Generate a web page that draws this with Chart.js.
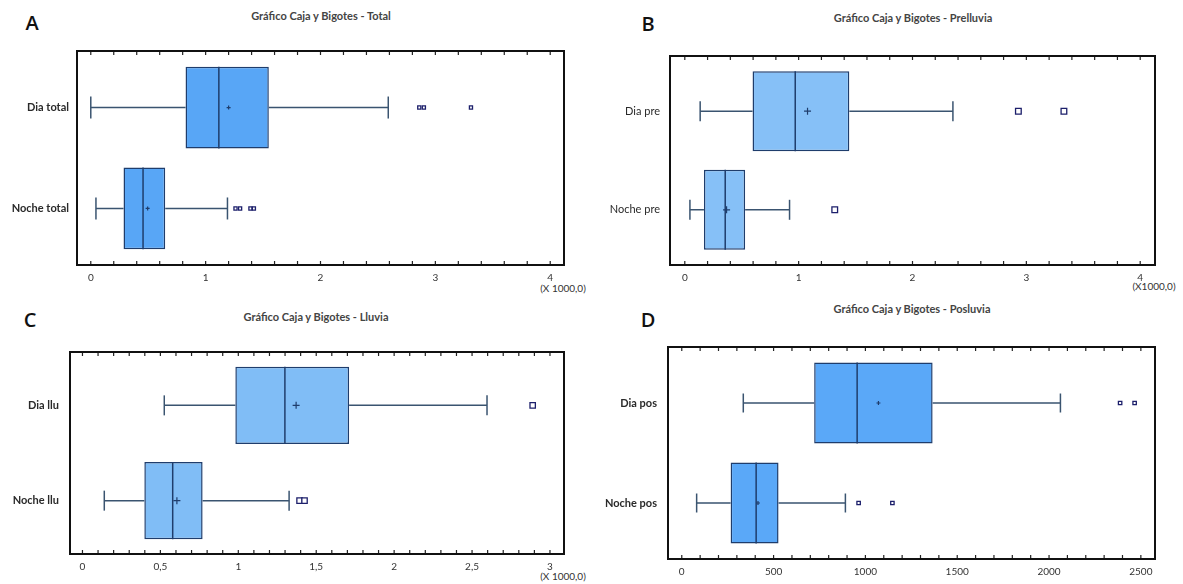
<!DOCTYPE html>
<html>
<head>
<meta charset="utf-8">
<script src="https://cdn.jsdelivr.net/npm/chart.js@4.4.1/dist/chart.umd.min.js"></script>
<style>
  body { margin: 0; background: #fff; width: 1183px; height: 584px; position: relative; overflow: hidden; font-family: Lato, "Open Sans", sans-serif; }
  .panel { position: absolute; }
  .txt { position: absolute; transform: translate(-50%, -50%); white-space: nowrap; color: #333; }
  .letter { font-family: "Open Sans", Lato, sans-serif; font-size: 20px; font-weight: 600; color: #111; }
  .title { font-size: 11px; font-weight: bold; color: #444; }
  .unit { font-size: 10px; color: #333; }
</style>
</head>
<body>

<div class="txt letter" style="left:32px;top:22px">A</div>
<div class="txt title" style="left:321px;top:15px">Gráfico Caja y Bigotes - Total</div>
<div class="txt unit" style="left:563px;top:288px">(X 1000,0)</div>

<div class="txt letter" style="left:648px;top:23px">B</div>
<div class="txt title" style="left:913px;top:17px">Gráfico Caja y Bigotes - Prelluvia</div>
<div class="txt unit" style="left:1154px;top:286px">(X1000,0)</div>

<div class="txt letter" style="left:30px;top:319px">C</div>
<div class="txt title" style="left:316px;top:316px">Gráfico Caja y Bigotes - Lluvia</div>
<div class="txt unit" style="left:563px;top:576px">(X 1000,0)</div>

<div class="txt letter" style="left:648px;top:319px">D</div>
<div class="txt title" style="left:912px;top:308px">Gráfico Caja y Bigotes - Posluvia</div>

<div class="panel" style="left:0;top:0;width:590px;height:290px"><canvas id="chartA"></canvas></div>
<div class="panel" style="left:590px;top:0;width:593px;height:290px"><canvas id="chartB"></canvas></div>
<div class="panel" style="left:0;top:290px;width:590px;height:294px"><canvas id="chartC"></canvas></div>
<div class="panel" style="left:590px;top:290px;width:593px;height:294px"><canvas id="chartD"></canvas></div>

<script>
// A - Total (X 1000)
const catsA = ["Dia total", "Noche total"];
const lowA = [0.0, 0.045];
const q1A = [0.825, 0.285];
const medA = [1.115, 0.455];
const q3A = [1.55, 0.648];
const highA = [2.59, 1.19];
const meanA = [1.2, 0.495];
const outA = [[2.86, 2.9, 3.31], [1.26, 1.3, 1.39, 1.42]];
const ticksA = [0, 1, 2, 3, 4];
const tickLabelsA = ["0", "1", "2", "3", "4"];

// B - Prelluvia (X 1000)
const catsB = ["Dia pre", "Noche pre"];
const lowB = [0.135, 0.045];
const q1B = [0.595, 0.168];
const medB = [0.97, 0.355];
const q3B = [1.445, 0.53];
const highB = [2.355, 0.92];
const meanB = [1.078, 0.367];
const outB = [[2.93, 3.33], [1.317]];
const ticksB = [0, 1, 2, 3, 4];
const tickLabelsB = ["0", "1", "2", "3", "4"];

// C - Lluvia (X 1000)
const catsC = ["Dia llu", "Noche llu"];
const lowC = [0.525, 0.14];
const q1C = [0.981, 0.397];
const medC = [1.299, 0.579];
const q3C = [1.711, 0.771];
const highC = [2.596, 1.326];
const meanC = [1.371, 0.606];
const outC = [[2.889], [1.393, 1.425]];
const ticksC = [0, 0.5, 1, 1.5, 2, 2.5, 3];
const tickLabelsC = ["0", "0,5", "1", "1,5", "2", "2,5", "3"];

// D - Posluvia
const catsD = ["Dia pos", "Noche pos"];
const lowD = [335, 81];
const q1D = [721, 266];
const medD = [955, 405];
const q3D = [1366, 527];
const highD = [2062, 891];
const meanD = [1071, 415];
const outD = [[2387, 2466], [963, 1147]];
const ticksD = [0, 500, 1000, 1500, 2000, 2500];
const tickLabelsD = ["0", "500", "1000", "1500", "2000", "2500"];

const navy = "#1f3d6c";
const whiskerColor = "#3a5470";
const outlierColor = "#1c1f6b";

// frame and inner tick marks (top and bottom)
const framePlugin = {
  id: "frame",
  afterDatasetsDraw(chart, args, opts) {
    const { ctx, chartArea: a, scales } = chart;
    const x = scales.x;
    ctx.save();
    ctx.strokeStyle = "#222";
    ctx.lineWidth = 1.2;
    const first = Math.ceil(x.min / opts.minor);
    const last = Math.floor(x.max / opts.minor);
    for (let k = first; k <= last; k++) {
      const px = x.getPixelForValue(k * opts.minor);
      ctx.beginPath();
      ctx.moveTo(px, a.top);
      ctx.lineTo(px, a.top + 4);
      ctx.moveTo(px, a.bottom);
      ctx.lineTo(px, a.bottom - 4);
      ctx.stroke();
    }
    ctx.lineWidth = 2;
    ctx.strokeStyle = "#111";
    ctx.strokeRect(a.left, a.top, a.width, a.height);
    ctx.restore();
  }
};

function makePanel(id, p) {
  const n = p.cats.length;
  const pos = i => n - 1 - i;
  const halfBox = 0.405;

  const boxes = p.cats.map((c, i) => ({ y: pos(i), x: [p.q1[i], p.q3[i]] }));
  const whiskers = [];
  p.cats.forEach((c, i) => {
    whiskers.push({ x: p.low[i], y: pos(i) }, { x: p.q1[i], y: pos(i) }, { x: null, y: null });
    whiskers.push({ x: p.q3[i], y: pos(i) }, { x: p.high[i], y: pos(i) }, { x: null, y: null });
  });
  const caps = [];
  p.cats.forEach((c, i) => caps.push({ x: p.low[i], y: pos(i) }, { x: p.high[i], y: pos(i) }));
  const medians = p.cats.map((c, i) => ({ x: p.med[i], y: pos(i) }));
  const means = p.cats.map((c, i) => ({ x: p.mean[i], y: pos(i) }));
  const outliers = [];
  p.cats.forEach((c, i) => p.out[i].forEach(v => outliers.push({ x: v, y: pos(i) })));

  const medRadius = ctx => {
    const y = ctx.chart.scales.y;
    return Math.abs(y.getPixelForValue(0) - y.getPixelForValue(halfBox));
  };

  new Chart(document.getElementById(id), {
    type: "bar",
    data: {
      datasets: [
        {
          type: "line",
          data: whiskers,
          borderColor: whiskerColor,
          borderWidth: 1.5,
          pointRadius: 0,
          spanGaps: false,
          order: 3
        },
        {
          type: "scatter",
          data: caps,
          pointStyle: "line",
          rotation: 90,
          pointRadius: p.capRadius,
          borderColor: whiskerColor,
          borderWidth: 1.5,
          order: 3
        },
        {
          type: "bar",
          data: boxes,
          backgroundColor: p.fill,
          borderColor: navy,
          borderWidth: 1.5,
          borderSkipped: false,
          categoryPercentage: 1,
          barPercentage: 0.81,
          order: 2
        },
        {
          type: "scatter",
          data: medians,
          pointStyle: "line",
          rotation: 90,
          pointRadius: medRadius,
          borderColor: navy,
          borderWidth: 1.5,
          order: 1
        },
        {
          type: "scatter",
          data: means,
          pointStyle: "cross",
          pointRadius: p.meanRadius,
          borderColor: navy,
          borderWidth: 1.2,
          order: 0
        },
        {
          type: "scatter",
          data: outliers,
          pointStyle: "rect",
          pointRadius: p.outRadius,
          backgroundColor: "#fff",
          borderColor: outlierColor,
          borderWidth: 1.3,
          order: 0
        }
      ]
    },
    options: {
      indexAxis: "y",
      responsive: true,
      maintainAspectRatio: false,
      animation: false,
      events: [],
      layout: { padding: p.padding },
      plugins: {
        legend: { display: false },
        tooltip: { enabled: false },
        title: { display: false },
        frame: { minor: p.minor }
      },
      scales: {
        x: {
          type: "linear",
          min: p.xmin,
          max: p.xmax,
          grid: { display: false, drawTicks: false },
          border: { display: false },
          afterBuildTicks: s => { s.ticks = p.ticks.map(v => ({ value: v })); },
          afterFit: s => { s.height = 25; },
          ticks: {
            padding: 7,
            color: "#333",
            autoSkip: false,
            font: { family: "Lato, 'Open Sans', sans-serif", size: 10 },
            maxRotation: 0,
            callback: v => p.tickLabels[p.ticks.indexOf(v)]
          }
        },
        y: {
          type: "linear",
          min: -0.56,
          max: 1.56,
          offset: false,
          grid: { display: false, offset: false, drawTicks: false },
          border: { display: false },
          afterBuildTicks: s => { s.ticks = p.cats.map((c, i) => ({ value: pos(i) })); },
          afterFit: s => { s.width = p.yWidth; },
          ticks: {
            padding: p.yPad,
            color: "#2a2a2a",
            font: { family: "Lato, 'Open Sans', sans-serif", size: 11, weight: p.yWeight },
            callback: v => p.cats[n - 1 - v]
          }
        }
      }
    },
    plugins: [framePlugin]
  });
}

makePanel("chartA", {
  cats: catsA, low: lowA, q1: q1A, med: medA, q3: q3A, high: highA, mean: meanA, out: outA,
  ticks: ticksA, tickLabels: tickLabelsA, minor: 0.2, xmin: -0.12, xmax: 4.12,
  fill: "#58a6f6", capRadius: 11, meanRadius: 2, outRadius: 2.2,
  yWidth: 77, yPad: 8, yWeight: "bold",
  padding: { top: 51, right: 26, bottom: 0, left: 0 }
});
makePanel("chartB", {
  cats: catsB, low: lowB, q1: q1B, med: medB, q3: q3B, high: highB, mean: meanB, out: outB,
  ticks: ticksB, tickLabels: tickLabelsB, minor: 0.2, xmin: -0.13, xmax: 4.13,
  fill: "#86c0f7", capRadius: 10, meanRadius: 3.5, outRadius: 4,
  yWidth: 80, yPad: 10, yWeight: "normal",
  padding: { top: 56, right: 28, bottom: 0, left: 0 }
});
makePanel("chartC", {
  cats: catsC, low: lowC, q1: q1C, med: medC, q3: q3C, high: highC, mean: meanC, out: outC,
  ticks: ticksC, tickLabels: tickLabelsC, minor: 0.1, xmin: -0.08, xmax: 3.09,
  fill: "#80bdf6", capRadius: 10, meanRadius: 3.5, outRadius: 3.8,
  yWidth: 70, yPad: 11, yWeight: "bold",
  padding: { top: 62, right: 26, bottom: 5, left: 0 }
});
makePanel("chartD", {
  cats: catsD, low: lowD, q1: q1D, med: medD, q3: q3D, high: highD, mean: meanD, out: outD,
  ticks: ticksD, tickLabels: tickLabelsD, minor: 100, xmin: -75, xmax: 2577,
  fill: "#5aa8f8", capRadius: 9.5, meanRadius: 2, outRadius: 2.4,
  yWidth: 78, yPad: 11, yWeight: "bold",
  padding: { top: 57, right: 28, bottom: 0, left: 0 }
});
</script>
</body>
</html>
